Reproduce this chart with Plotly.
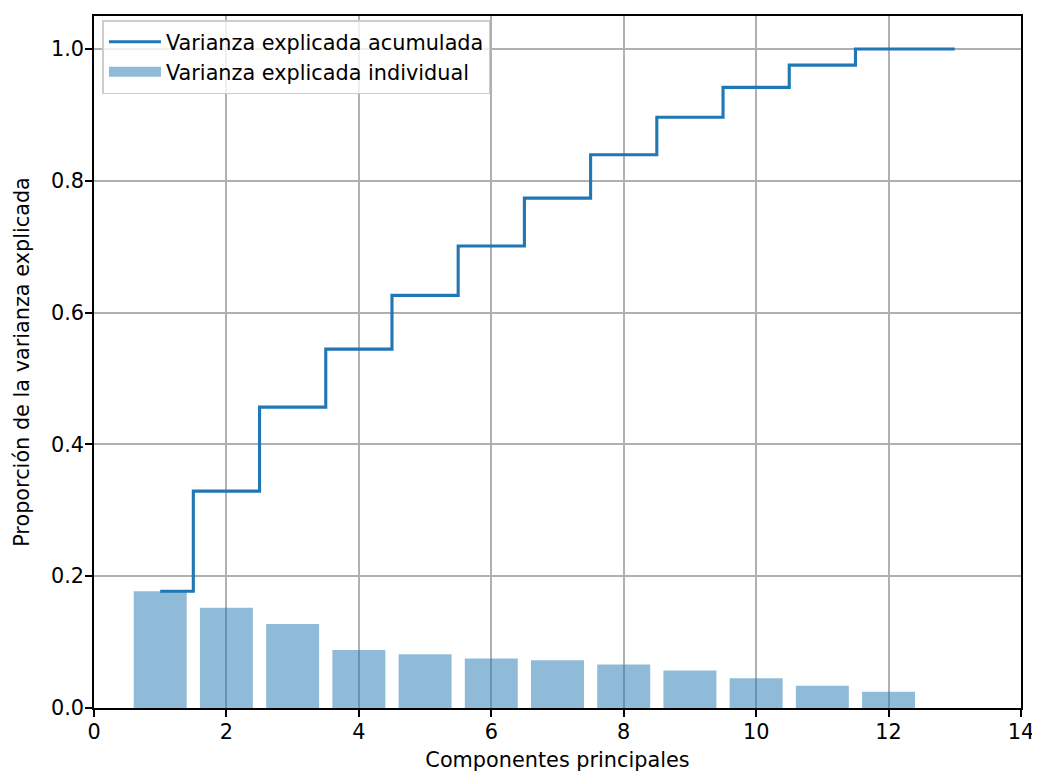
import numpy as np
import plotly.graph_objects as go

componentes = [1, 2, 3, 4, 5, 6, 7, 8, 9, 10, 11, 12, 13]
varianza_individual = [0.1773, 0.1520, 0.1274, 0.0881, 0.0816, 0.0750, 0.0726,
                       0.0660, 0.0569, 0.0453, 0.0337, 0.0246, 0.0000]
varianza_acumulada = list(np.cumsum(varianza_individual) / np.sum(varianza_individual))

x_ticks = [0, 2, 4, 6, 8, 10, 12, 14]
y_ticks = [0.0, 0.2, 0.4, 0.6, 0.8, 1.0]

FONT = "DejaVu Sans"
FS = 20.8
BLUE = "#1f77b4"
BAR_COLOR = "rgba(31,119,180,0.5)"

fig = go.Figure()
fig.add_trace(go.Scatter(
    x=componentes, y=varianza_acumulada, mode="lines", line_shape="hvh",
    line=dict(color=BLUE, width=3.1), name="Varianza explicada acumulada",
    legendgroup="a", hoverinfo="skip",
))
fig.add_trace(go.Bar(
    x=componentes, y=varianza_individual, width=0.8,
    marker=dict(color=BAR_COLOR, line=dict(width=0)),
    name="Varianza explicada individual", legendgroup="b", showlegend=False,
))
# legend entry for the bars (wide patch like matplotlib)
fig.add_trace(go.Scatter(
    x=[None], y=[None], mode="lines",
    line=dict(color=BAR_COLOR, width=15),
    name="Varianza explicada individual", legendgroup="b", hoverinfo="skip",
))

axis_common = dict(
    showline=True, linecolor="black", linewidth=1.6, mirror=True,
    ticks="outside", ticklen=7, tickwidth=1.6, tickcolor="black",
    showgrid=True, gridcolor="#b0b0b0", gridwidth=1.6,
    zeroline=False, tickfont=dict(family=FONT, size=FS, color="black"),
    ticklabelstandoff=-3,
)

fig.update_xaxes(range=[0, 14], tickvals=x_ticks,
                 title=dict(text="Componentes principales",
                            font=dict(family=FONT, size=FS, color="black"), standoff=10),
                 **axis_common)
fig.update_yaxes(range=[0, 1.05], tickvals=y_ticks, tickformat=".1f",
                 title=dict(text="Proporción de la varianza explicada",
                            font=dict(family=FONT, size=FS, color="black"), standoff=16),
                 **axis_common)

fig.update_layout(
    width=1032, height=766,
    margin=dict(l=86, r=17, t=6, b=66),
    plot_bgcolor="white", paper_bgcolor="white",
    font=dict(family=FONT, size=FS, color="black"),
    showlegend=True,
    legend=dict(x=0.009, y=0.994, xanchor="left", yanchor="top",
                bgcolor="rgba(255,255,255,0.8)", bordercolor="#cccccc", borderwidth=1.6,
                font=dict(family=FONT, size=FS, color="black"),
                tracegroupgap=4, traceorder="normal", itemwidth=52),
    bargap=0.2,
)

fig.write_html("out.html")
